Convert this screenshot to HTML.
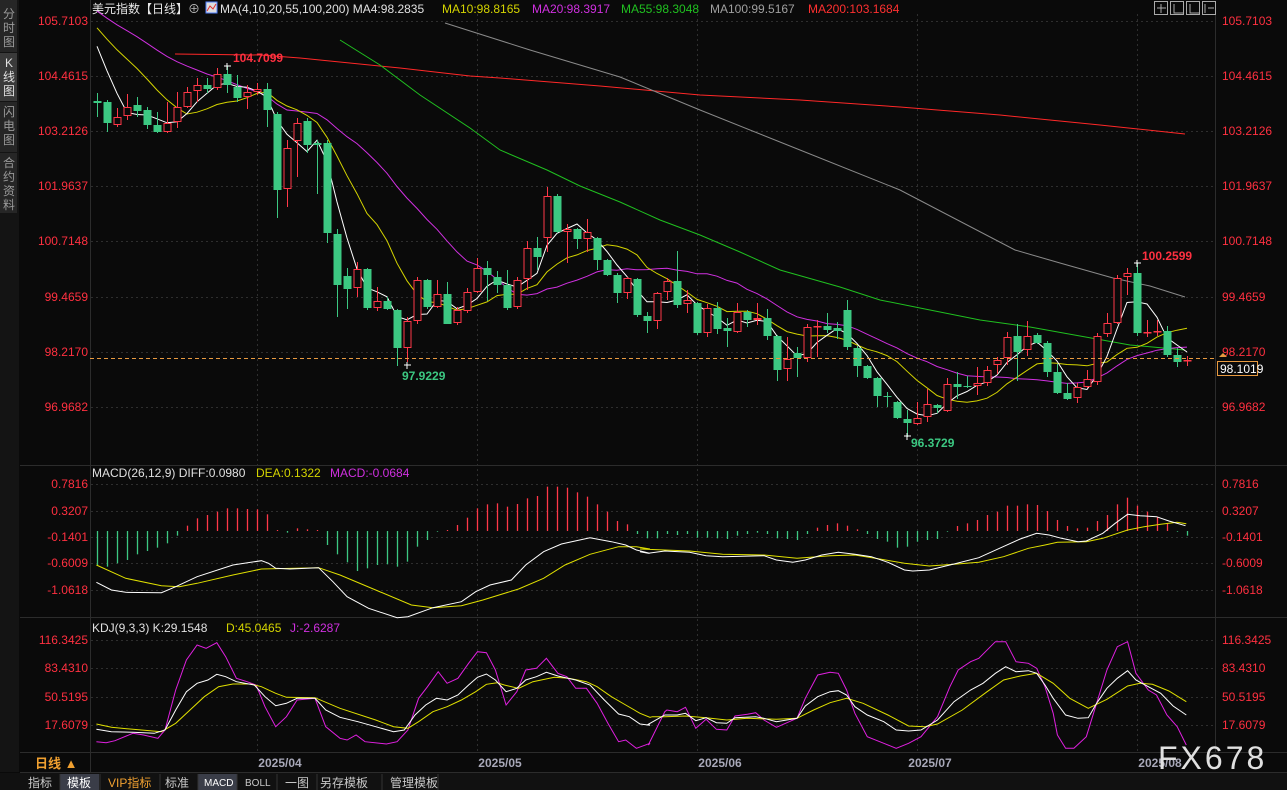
<!DOCTYPE html>
<html><head><meta charset="utf-8">
<style>
html,body{margin:0;padding:0;background:#0a0a0a;width:1287px;height:790px;overflow:hidden}
svg{display:block}
text{font-family:"Liberation Sans","Noto Sans CJK SC",sans-serif}
</style></head><body>
<svg id="s" width="1287" height="790" xmlns="http://www.w3.org/2000/svg">
<rect width="1287" height="790" fill="#0a0a0a"/>
<rect x="0" y="0" width="19" height="772" fill="#141414"/>
<rect x="0" y="0" width="17" height="52" fill="#262626"/>
<rect x="0" y="53" width="17" height="48" fill="#3a3a3a"/>
<rect x="0" y="102" width="17" height="50" fill="#262626"/>
<rect x="0" y="153" width="17" height="60" fill="#262626"/>
<g font-size="12" fill="#9a9a9a" text-anchor="middle">
<text x="9" y="18">分</text><text x="9" y="32">时</text><text x="9" y="46">图</text>
<text x="9" y="67" fill="#e0e0e0">K</text><text x="9" y="81" fill="#e0e0e0">线</text><text x="9" y="95" fill="#e0e0e0">图</text>
<text x="9" y="116">闪</text><text x="9" y="130">电</text><text x="9" y="144">图</text>
<text x="9" y="167">合</text><text x="9" y="181">约</text><text x="9" y="195">资</text><text x="9" y="209">料</text>
</g>
<g id="grid" stroke="#2e2e2e" stroke-dasharray="2,3" stroke-width="1"></g>
<g stroke="#2c2c2c" stroke-width="1">
<line x1="90.5" y1="0" x2="90.5" y2="772"/>
<line x1="1215.5" y1="14" x2="1215.5" y2="752"/>
<line x1="20" y1="465.5" x2="1287" y2="465.5"/>
<line x1="20" y1="617.5" x2="1287" y2="617.5"/>
<line x1="20" y1="752.5" x2="1287" y2="752.5"/>
<line x1="20" y1="772.5" x2="1287" y2="772.5"/>
</g>
<text x="92" y="13" font-size="12" fill="#e8e8e8">美元指数【日线】<tspan fill="#bbb">⊕</tspan></text>
<rect x="206" y="2" width="11" height="11" fill="#ddd" stroke="#5080ff"/>
<polyline points="207,11 210,6 213,9 216,4" fill="none" stroke="#e03030"/>
<text x="220" y="13" font-size="12" fill="#e0e0e0">MA(4,10,20,55,100,200) MA4:98.2835</text>
<text x="442" y="13" font-size="12" fill="#d4d400">MA10:98.8165</text>
<text x="532" y="13" font-size="12" fill="#d030e0">MA20:98.3917</text>
<text x="621" y="13" font-size="12" fill="#20c020">MA55:98.3048</text>
<text x="710" y="13" font-size="12" fill="#a0a0a0">MA100:99.5167</text>
<text x="808" y="13" font-size="12" fill="#ff3030">MA200:103.1684</text>
<g fill="none" stroke="#aaa">
<rect x="1154.5" y="1.5" width="13" height="13"/><rect x="1170.5" y="1.5" width="13" height="13"/>
<rect x="1186.5" y="1.5" width="13" height="13"/><rect x="1202.5" y="1.5" width="13" height="13"/>
<path d="M1161 4v9M1157 8h9M1174 4v9h9M1190 4v9h9M1205 4v9M1208 8h6"/>
</g>
<g font-size="12" fill="#ff3040" id="axl"></g>
<g id="ma"></g>
<g id="candles"></g>
<line x1="90" y1="358.5" x2="1215" y2="358.5" stroke="#e89a40" stroke-dasharray="4,3"/>
<rect x="1217.5" y="361.5" width="40" height="14" fill="#0a0a0a" stroke="#e89a40"/>
<text x="1220" y="373" font-size="12" fill="#ffffff">98.1019</text>
<path d="M1219 357l4-4 4 4z" fill="#e89a40"/>
<text x="233" y="62" font-size="12" fill="#ff3040" font-weight="bold">104.7099</text>
<text x="402" y="380" font-size="12" fill="#3cc882" font-weight="bold">97.9229</text>
<text x="911" y="447" font-size="12" fill="#3cc882" font-weight="bold">96.3729</text>
<text x="1142" y="260" font-size="12" fill="#ff3040" font-weight="bold">100.2599</text>
<text x="92" y="477" font-size="12" fill="#e0e0e0">MACD(26,12,9) DIFF:0.0980</text>
<text x="256" y="477" font-size="12" fill="#d4d400">DEA:0.1322</text>
<text x="330" y="477" font-size="12" fill="#d030e0">MACD:-0.0684</text>
<g id="macd"></g>
<text x="92" y="632" font-size="12" fill="#e0e0e0">KDJ(9,3,3) K:29.1548</text>
<text x="226" y="632" font-size="12" fill="#d4d400">D:45.0465</text>
<text x="290" y="632" font-size="12" fill="#d030e0">J:-2.6287</text>
<g id="kdj"></g>
<g font-size="12" fill="#a8a8b8" font-weight="bold" text-anchor="middle">
<text x="280" y="767">2025/04</text><text x="500" y="767">2025/05</text>
<text x="720" y="767">2025/06</text><text x="930" y="767">2025/07</text><text x="1160" y="767">2025/08</text>
</g>
<text x="35" y="768" font-size="13" fill="#f0a030" font-weight="bold">日线 ▲</text>
<text x="1158" y="769" font-size="32" fill="#e0e0e0" letter-spacing="3">FX678</text>
<rect x="0" y="773" width="1287" height="17" fill="#111"/>
<rect x="60" y="774" width="39" height="16" fill="#3a3d48"/>
<rect x="198" y="774" width="39" height="16" fill="#3a3d48"/>
<g stroke="#333"><line x1="60" y1="774" x2="60" y2="790"/><line x1="100" y1="774" x2="100" y2="790"/><line x1="160" y1="774" x2="160" y2="790"/><line x1="198" y1="774" x2="198" y2="790"/><line x1="237" y1="774" x2="237" y2="790"/><line x1="277" y1="774" x2="277" y2="790"/><line x1="317" y1="774" x2="317" y2="790"/><line x1="382" y1="774" x2="382" y2="790"/><line x1="438" y1="774" x2="438" y2="790"/></g>
<g font-size="12" fill="#c8c8c8">
<text x="28" y="787">指标</text><text x="67" y="787" fill="#fff">模板</text>
<text x="108" y="787" fill="#f0a030">VIP指标</text><text x="165" y="787">标准</text>
<text x="204" y="786" font-size="10" fill="#fff" font-family="Liberation Mono">MACD</text>
<text x="245" y="786" font-size="10" font-family="Liberation Mono">BOLL</text>
<text x="285" y="787">一图</text><text x="320" y="787">另存模板</text><text x="390" y="787">管理模板</text>
</g>
</svg>
<script>
var NS="http://www.w3.org/2000/svg";
function el(p,t,a){var e=document.createElementNS(NS,t);for(var k in a)e.setAttribute(k,a[k]);document.getElementById(p).appendChild(e);return e;}
var hy=[21,76,131,186,241,297,352,407,484,511,537,563,590,640,668,697,725];
hy.forEach(function(y){el("grid","line",{x1:91,y1:y+.5,x2:1215,y2:y+.5});});
[257,477,697,917,1137].forEach(function(x){el("grid","line",{x1:x+.5,y1:14,x2:x+.5,y2:752});});
var lab=[["105.7103",21],["104.4615",76],["103.2126",131],["101.9637",186],["100.7148",241],["99.4659",297],["98.2170",352],["96.9682",407],
["0.7816",484],["0.3207",511],["-0.1401",537],["-0.6009",563],["-1.0618",590],["116.3425",640],["83.4310",668],["50.5195",697],["17.6079",725]];
lab.forEach(function(l){var t=el("axl","text",{x:88,y:l[1]+4,"text-anchor":"end"});t.textContent=l[0];
var t2=el("axl","text",{x:1222,y:l[1]+4});t2.textContent=l[0];});
var C=[[101,103,93,117,0],[102,123,100,132,0],[117,125,108,127,1],[107,116,94,120,1],[105,111,97,117,0],[110,125,107,129,0],[125,132,112,133,0],[123,132,102,133,1],[107,122,92,128,1],[92,107,87,108,1],[85,91,78,102,1],[85,89,78,93,0],[74,88,68,90,1],[74,85,66,93,0],[87,98,75,102,0],[92,97,85,109,1],[89,92,83,95,1],[89,110,83,127,0],[114,190,112,218,0],[148,189,140,207,1],[123,141,118,177,1],[121,145,118,153,0],[143,145,140,194,0],[143,233,140,243,0],[234,285,229,317,0],[276,289,268,309,0],[269,288,262,297,1],[269,308,268,310,0],[301,308,287,311,1],[301,309,297,310,0],[310,348,309,366,0],[321,348,317,362,1],[280,321,277,324,1],[280,307,279,309,0],[294,307,280,308,1],[294,324,282,324,0],[310,323,307,325,1],[292,311,288,313,1],[268,292,258,293,1],[268,275,261,301,0],[277,285,271,293,0],[285,308,270,310,0],[280,307,277,309,1],[248,279,241,290,1],[248,257,237,270,0],[196,238,187,252,1],[196,232,194,233,0],[229,232,224,263,1],[229,239,228,249,0],[232,239,219,252,1],[238,260,237,270,0],[260,275,259,276,0],[275,293,273,303,0],[278,293,277,299,1],[279,315,278,317,0],[316,321,312,333,0],[293,321,292,329,1],[281,292,278,300,1],[281,305,251,308,0],[300,304,290,313,1],[303,333,302,335,0],[308,333,304,337,1],[308,329,302,334,0],[328,331,318,347,0],[312,332,303,333,1],[312,320,310,327,0],[318,320,303,325,1],[318,336,309,340,0],[336,370,335,381,0],[359,369,337,381,1],[353,358,347,377,0],[327,358,324,362,1],[326,327,320,357,1],[326,330,313,333,0],[328,331,322,339,0],[310,347,300,350,0],[348,366,346,377,0],[366,378,365,379,0],[378,396,377,407,0],[396,397,392,407,0],[402,418,401,419,0],[419,423,410,437,0],[418,424,402,425,1],[404,417,389,422,1],[405,408,404,413,0],[384,411,378,412,1],[384,387,372,399,0],[386,387,376,388,0],[383,386,367,395,1],[370,383,366,386,1],[360,365,357,374,1],[337,358,332,365,1],[336,352,324,381,0],[336,350,321,356,1],[335,343,333,344,0],[343,372,341,377,0],[372,393,364,394,0],[393,399,383,400,0],[387,398,383,403,1],[379,387,370,388,1],[336,382,333,385,1],[323,334,313,337,1],[278,323,275,324,1],[273,277,268,295,1],[273,333,263,336,0],[332,333,320,337,1],[331,332,320,336,1],[331,355,326,357,0],[355,362,348,367,0],[360,361,356,366,1]];
var RED="#ff3848",GRN="#3cc882";
var closes=[];for(var k=0;k<20;k++)closes.push(-20+k*50/19);
C.forEach(function(c,i){
 var x=97+10*i,col=c[4]?RED:GRN;
 closes.push(c[4]?c[0]:c[1]);
 el("candles","line",{x1:x+.5,y1:c[2],x2:x+.5,y2:c[0],stroke:col});
 el("candles","line",{x1:x+.5,y1:c[1],x2:x+.5,y2:c[3],stroke:col});
 var h=Math.max(c[1]-c[0],1);
 if(c[4])el("candles","rect",{x:x-3,y:c[0]+.5,width:7,height:Math.max(h-1,0.5),fill:"#0a0a0a",stroke:col});
 else el("candles","rect",{x:x-3.5,y:c[0],width:8,height:h,fill:col});
});
function ma(n,col){var p=[];for(var i=0;i<C.length;i++){var s=0;for(var j=0;j<n;j++)s+=closes[20+i-j];p.push((97+10*i)+","+(s/n).toFixed(1));}
 el("ma","polyline",{points:p.join(" "),fill:"none",stroke:col,"stroke-width":1});}
function poly(g,pts,col){el(g,"polyline",{points:pts.map(function(p){return p[0]+","+p[1];}).join(" "),fill:"none",stroke:col,"stroke-width":1});}
poly("ma",[[175,54],[260,55],[300,58],[400,68],[470,76],[500,78],[600,86],[700,95],[800,100],[900,107],[1000,115],[1100,125],[1185,134]],"#ff2828");
poly("ma",[[445,23],[530,50],[620,77],[700,110],[800,150],[900,190],[1015,250],[1060,263],[1113,278],[1150,286],[1185,297]],"#8a8a8a");
poly("ma",[[340,40],[380,65],[420,95],[470,128],[500,150],[547,170],[580,186],[620,202],[660,220],[700,235],[740,252],[780,270],[840,287],[880,300],[930,310],[980,320],[1030,327],[1080,336],[1130,345],[1185,350]],"#20c020");
ma(20,"#d030e0");ma(10,"#d4d400");ma(4,"#ffffff");
var mb=[300,305,295,285,268,258,248,235,212,182,160,150,140,130,130,132,133,148,195,203,190,193,195,240,268,292,318,310,300,298,305,290,245,225,200,195,180,158,130,118,115,125,117,100,93,65,65,68,82,95,118,140,168,178,207,220,
220,207,210,207,218,218,220,222,212,207,203,207,220,222,225,207,188,180,175,182,193,207,222,230,248,245,230,225,222,200,183,175,165,150,140,122,122,118,120,138,165,183,190,188,168,150,118,98,122,140,155,175,200,212];
mb.forEach(function(v,i){var y=465+v/3,x=97+10*i+.5;el("macd","line",{x1:x,y1:531,x2:x,y2:y,stroke:v<198?RED:GRN,"stroke-width":1.3});});
function cv(a,b,base){return a.map(function(p){return[(b?640+p[0]/2.42:90+p[0]/2.8).toFixed(1),(base+p[1]/3).toFixed(1)];});}
poly("macd",cv([[18,300],[100,340],[200,362],[250,365],[300,355],[400,330],[480,312],[640,308],[700,330],[800,375],[900,420],[960,428],[1040,422],[1100,405],[1200,372],[1270,340],[1330,300],[1400,268],[1480,245],[1530,245],[1568,252]],0,465).concat(cv([[0,252],[120,258],[200,268],[300,270],[380,280],[460,272],[520,270],[580,282],[640,295],[700,303],[760,298],[820,292],[880,275],[940,250],[980,240],[1010,232],[1080,230],[1120,220],[1180,195],[1220,185],[1260,178],[1300,172],[1322,176]],1,465)),"#e0e000");
poly("macd",cv([[18,352],[60,375],[100,382],[200,383],[240,365],[300,335],[400,300],[480,287],[500,295],[520,310],[560,312],[640,308],[680,350],[720,395],[780,430],[860,458],[890,455],[960,428],[1040,410],[1080,380],[1120,360],[1180,345],[1220,300],[1270,260],[1320,237],[1400,218],[1460,230],[1500,240],[1530,255],[1568,265]],0,465).concat(cv([[0,260],[20,265],[60,258],[120,262],[160,272],[200,275],[300,272],[330,285],[370,292],[400,285],[440,270],[480,262],[520,268],[560,275],[600,292],[640,315],[660,318],[700,315],[760,297],[820,278],[870,250],[920,222],[960,205],[990,210],[1020,220],[1060,230],[1080,228],[1120,205],[1150,175],[1180,148],[1210,152],[1250,155],[1280,168],[1320,182]],1,465)),"#ffffff");
poly("kdj",cv([[18,365],[45,368],[70,362],[120,340],[150,345],[190,355],[210,330],[240,210],[270,120],[300,75],[325,85],[355,68],[380,110],[410,175],[440,185],[465,195],[490,260],[520,320],[550,290],[580,240],[630,235],[660,320],[700,355],[720,360],[745,345],[770,365],[830,372],[860,365],[890,330],[920,235],[945,200],[975,155],[1000,190],[1030,175],[1060,130],[1085,95],[1110,98],[1135,150],[1165,255],[1195,215],[1220,150],[1250,145],[1278,115],[1310,160],[1335,170],[1360,205],[1390,205],[1420,250],[1450,310],[1480,365],[1500,360],[1530,385],[1568,370]],0,620).concat(cv([[20,375],[60,275],[65,270],[90,275],[110,262],[135,325],[160,298],[185,328],[210,330],[230,288],[260,283],[280,278],[300,300],[330,322],[380,295],[400,235],[430,165],[460,157],[480,160],[500,210],[520,280],[550,350],[590,370],[620,385],[650,370],[680,350],[720,290],[750,200],[770,150],[800,125],[820,115],[860,65],[885,65],[910,125],[940,130],[960,145],[980,200],[1000,280],[1010,345],[1030,385],[1050,385],[1080,350],[1105,250],[1130,150],[1155,80],[1180,65],[1200,160],[1230,210],[1250,225],[1275,285],[1300,320],[1322,375]],1,620)),"#e020e0");
poly("kdj",cv([[18,312],[60,322],[120,328],[200,335],[240,310],[280,270],[320,230],[360,200],[400,192],[450,192],[480,200],[520,220],[550,232],[630,233],[700,265],[800,300],[850,320],[890,325],[920,305],[960,275],[1000,260],[1040,240],[1080,215],[1110,193],[1140,188],[1160,195],[1200,205],[1240,185],[1300,172],[1340,175],[1390,185],[1420,200],[1460,230],[1500,255],[1540,280],[1568,292]],0,620).concat(cv([[30,290],[60,290],[110,288],[160,293],[210,300],[260,295],[330,298],[380,295],[420,270],[460,248],[500,235],[540,250],[600,285],[650,318],[690,320],[720,312],[780,270],[840,215],[880,180],[920,168],[960,160],[1000,190],[1040,235],[1085,265],[1130,238],[1180,198],[1210,190],[1240,193],[1280,213],[1322,245]],1,620)),"#e0e000");
poly("kdj",cv([[18,328],[60,335],[120,337],[180,340],[210,330],[240,270],[270,215],[300,190],[330,180],[355,163],[380,170],[410,185],[460,195],[490,230],[520,257],[550,250],[580,235],[630,235],[660,270],[700,292],[750,305],[800,320],[850,335],[880,330],[910,285],[940,255],[970,235],[1000,240],[1030,225],[1060,195],[1085,172],[1110,162],[1135,180],[1165,215],[1195,205],[1220,180],[1250,170],[1278,157],[1310,168],[1360,180],[1400,195],[1440,240],[1480,282],[1510,290],[1540,312],[1568,316]],0,620).concat(cv([[20,313],[60,285],[90,285],[110,280],[135,302],[160,293],[185,308],[210,310],[230,293],[280,290],[300,295],[330,305],[380,295],[400,258],[430,230],[460,215],[480,212],[500,225],[520,260],[550,285],[590,305],[620,330],[650,333],[680,330],[720,300],[760,245],[800,210],[830,190],[860,160],[885,140],[910,155],[940,152],[960,160],[980,195],[1000,235],[1030,285],[1060,295],[1085,293],[1105,250],[1130,205],[1155,175],[1180,152],[1200,180],[1230,200],[1260,220],[1290,258],[1322,285]],1,620)),"#ffffff");
[[227,66],[407,365],[907,436],[1137,263]].forEach(function(m){el("candles","path",{d:"M"+(m[0]-3)+" "+m[1]+"h7M"+m[0]+" "+(m[1]-3)+"v7",stroke:"#fff"});});
</script>
</body></html>
